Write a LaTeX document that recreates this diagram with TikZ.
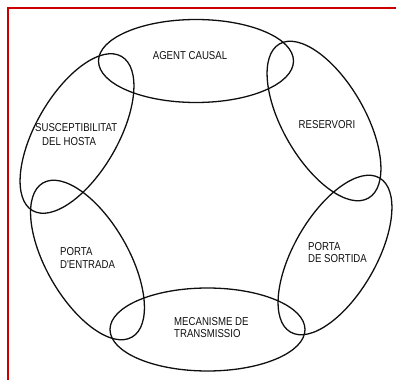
\documentclass[tikz,border=0pt]{standalone}
\usepackage{fontspec}
\usepackage{tikz}
\usetikzlibrary{positioning}
\newfontfamily\lblfont[FakeStretch=0.84]{Liberation Sans}
\definecolor{framered}{RGB}{204,0,0}
\definecolor{inkblack}{RGB}{15,15,15}

\begin{document}
\begin{tikzpicture}[x=1bp,y=1bp,
    ring/.style={inkblack,line width=1.3bp},
    lbl/.style={inner sep=0pt,align=left,text=inkblack,
      font=\lblfont\fontsize{11.5}{12.5}\selectfont}]
  \useasboundingbox (0,0) rectangle (396,380);
  \draw[framered,line width=2bp] (7.7,0) -- (7.7,372.3) -- (396,372.3);
  % the two flat links of the chain
  \draw[ring] (196,319) ellipse (97.5 and 41.5);
  \draw[ring] (207.5,50.5) ellipse (97.5 and 41.5);
  % the four slanted links
  \foreach \cx/\cy/\ang in {324/259/-60,335/125/60,77/246.5/60,87.5/120/-60}
    \draw[ring,rotate around={\ang:(\cx,\cy)}] (\cx,\cy) ellipse (89 and 41);
  \node[lbl] (agent) at (190,324) {AGENT CAUSAL};
  \node[lbl] (reserv) at (327,255) {RESERVORI};
  \node[lbl,anchor=west] (sortida) at (308,127.5) {PORTA\\DE SORTIDA};
  \node[lbl,anchor=west] (transm) at (174,52.5) {MECANISME DE\\TRANSMISSIO};
  \node[lbl,anchor=west] (entrada) at (60,122) {PORTA\\D'ENTRADA};
  \node[lbl,anchor=west] (suscep) at (35,252.5) {SUSCEPTIBILITAT};
  \node[lbl,anchor=west] (hosta) at (42,238.5) {DEL HOSTA};
\end{tikzpicture}
\end{document}
